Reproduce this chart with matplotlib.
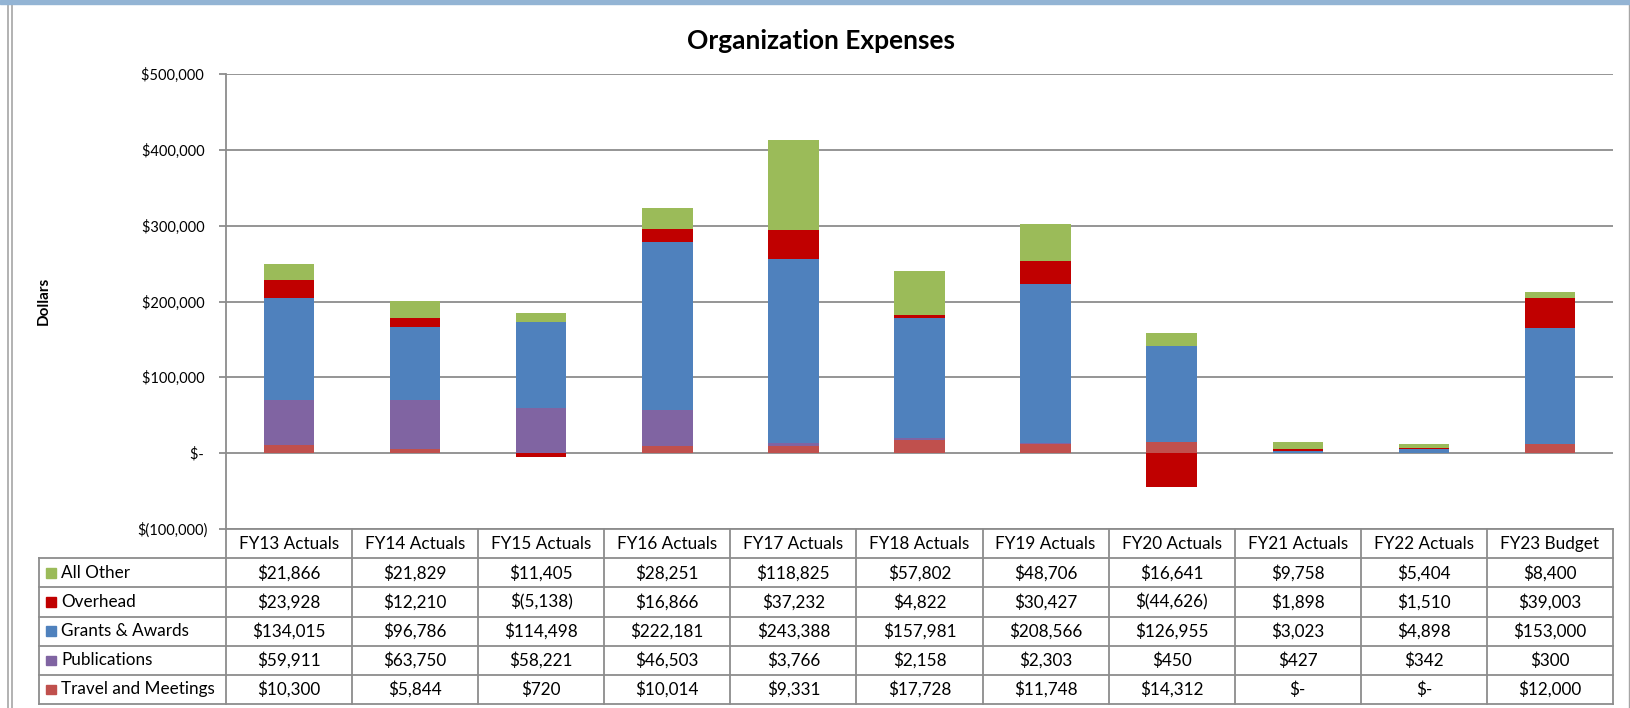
import matplotlib.pyplot as plt
from matplotlib.lines import Line2D
from matplotlib.patches import Rectangle
import numpy as np

plt.rcParams["font.family"] = ["Lato", "DejaVu Sans"]

categories = ["FY13 Actuals", "FY14 Actuals", "FY15 Actuals", "FY16 Actuals",
              "FY17 Actuals", "FY18 Actuals", "FY19 Actuals", "FY20 Actuals",
              "FY21 Actuals", "FY22 Actuals", "FY23 Budget"]
all_other = [21866, 21829, 11405, 28251, 118825, 57802, 48706, 16641, 9758, 5404, 8400]
overhead = [23928, 12210, -5138, 16866, 37232, 4822, 30427, -44626, 1898, 1510, 39003]
grants = [134015, 96786, 114498, 222181, 243388, 157981, 208566, 126955, 3023, 4898, 153000]
publications = [59911, 63750, 58221, 46503, 3766, 2158, 2303, 450, 427, 342, 300]
travel = [10300, 5844, 720, 10014, 9331, 17728, 11748, 14312, 0, 0, 12000]

y_ticks = [-100000, 0, 100000, 200000, 300000, 400000, 500000]

# stacking order bottom -> top
series = [
    ("Travel and Meetings", travel, "#C0504D"),
    ("Publications", publications, "#8064A2"),
    ("Grants & Awards", grants, "#4F81BD"),
    ("Overhead", overhead, "#C00000"),
    ("All Other", all_other, "#9BBB59"),
]

GRID = "#8c8c8c"
W, H = 1631, 708
TABLE_FS = 12.3


def money(v):
    if v == 0:
        return "$-"
    if v < 0:
        return f"$({abs(v):,})"
    return f"${v:,}"


fig = plt.figure(figsize=(W / 100, H / 100), dpi=100)

# plot area in pixel terms
px_left, px_right, px_top, px_bot = 226, 1613, 74, 529
ax = fig.add_axes([px_left / W, 1 - px_bot / H,
                   (px_right - px_left) / W, (px_bot - px_top) / H])

x = np.arange(len(categories))
pos_bottom = np.zeros(len(categories))
neg_bottom = np.zeros(len(categories))
for name, vals, color in series:
    v = np.array(vals, dtype=float)
    pos = np.where(v > 0, v, 0)
    neg = np.where(v < 0, v, 0)
    ax.bar(x, pos, 0.4, bottom=pos_bottom, color=color, zorder=2)
    ax.bar(x, neg, 0.4, bottom=neg_bottom, color=color, zorder=2)
    pos_bottom += pos
    neg_bottom += neg

ax.set_xlim(-0.5, len(categories) - 0.5)
ax.set_ylim(-100000, 500000)
ax.set_xticks([])
ax.set_yticks(y_ticks)
ax.set_yticklabels([money(t) + ("" if t < 0 else " ") for t in y_ticks], fontsize=10.5)
ax.tick_params(axis="y", length=5, width=1.3, color=GRID, pad=8)
ax.yaxis.grid(True, color=GRID, lw=1.3, zorder=1)
ax.set_axisbelow(True)
for s in ["top", "right"]:
    ax.spines[s].set_visible(False)
ax.spines["left"].set_color(GRID)
ax.spines["left"].set_linewidth(1.3)
ax.spines["bottom"].set_color(GRID)
ax.spines["bottom"].set_linewidth(1.3)

# data table below the plot
col_w = (px_right - px_left) / len(categories)
leg_w = (px_left - 39) / col_w
tab_top, tab_bot = 529, 704
tax = fig.add_axes([39 / W, 1 - tab_bot / H, (px_right - 39) / W, (tab_bot - tab_top) / H])
tax.set_xlim(-0.5 - leg_w, len(categories) - 0.5)
tax.set_ylim(6, 0)
tax.axis("off")
x0 = -0.5 - leg_w
xr = len(categories) - 0.5
lk = dict(color=GRID, lw=1.3, clip_on=False)
for r in range(1, 7):
    tax.plot([x0, xr], [r, r], **lk)
tax.plot([x0, x0], [1, 6], **lk)
for k in range(len(categories) + 1):
    tax.plot([-0.5 + k, -0.5 + k], [0, 6], **lk)

for i, c in enumerate(categories):
    tax.text(i, 0.5, c, ha="center", va="center", fontsize=TABLE_FS)

for r, (name, vals, color) in enumerate(reversed(series), start=1):
    tax.add_patch(Rectangle((x0 + 7 / col_w, r + 0.34), 9.5 / col_w, 0.33,
                            color=color, clip_on=False))
    tax.text(x0 + 22 / col_w, r + 0.5, name, ha="left", va="center", fontsize=TABLE_FS)
    for i, v in enumerate(vals):
        tax.text(i, r + 0.5, money(v), ha="center", va="center", fontsize=TABLE_FS)

# title and axis label
fig.text(821 / W, 1 - 41 / H, "Organization Expenses", ha="center", va="center",
         fontsize=19, fontweight="bold")
fig.text(44 / W, 1 - 301 / H, "Dollars", ha="center", va="center", rotation=90,
         fontsize=11, fontweight="bold")

# window frame bits around the chart
fig.patches.append(Rectangle((0, 1 - 4 / H), 1, 4 / H, transform=fig.transFigure,
                             color="#93B4D4", zorder=5))
for xp in (8.5, 12):
    fig.lines.append(Line2D([xp / W, xp / W], [0, 1 - 4 / H], transform=fig.transFigure,
                            color="#a6a6a6", lw=1.2))
fig.lines.append(Line2D([1629 / W, 1629 / W], [0, 1 - 4 / H], transform=fig.transFigure,
                        color="#a6a6a6", lw=1.0))

fig.savefig("out.png", dpi=100)
